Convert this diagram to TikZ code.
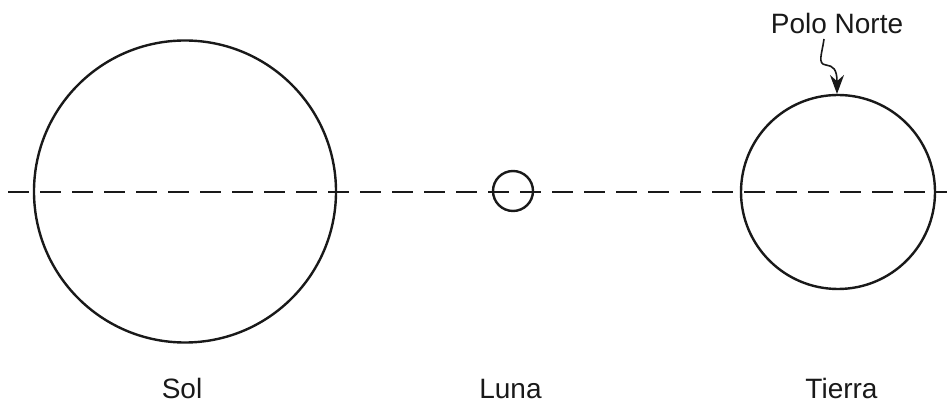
\documentclass[tikz,border=0pt]{standalone}
\usepackage{fontspec}
\setmainfont{Liberation Sans}
\usetikzlibrary{arrows.meta}
\begin{document}
\begin{tikzpicture}[x=1pt,y=1pt,
  body/.style={draw=black!90, line width=2.4pt, circle, inner sep=0pt},
  lbl/.style={font=\fontsize{28}{32}\selectfont, text=black!90, inner sep=0pt, anchor=base}]
\useasboundingbox (0,0) rectangle (947,409);
\draw[black!90, line width=2.4pt, dash pattern=on 21pt off 11pt, dash phase=24pt] (0,217) -- (947,217);
\node[body, minimum size=302pt] (sol) at (185,217.5) {};
\node[body, minimum size=40pt] (luna) at (513,218) {};
\node[body, minimum size=194pt] (tierra) at (838,217) {};
\node[lbl] (tsol) at (182,10) {Sol};
\node[lbl] (tluna) at (510.5,10) {Luna};
\node[lbl] (ttierra) at (841.5,10) {Tierra};
\node[lbl] (polo) at (837,375) {Polo Norte};
\draw[black!90, line width=1.6pt, -{Stealth[length=19pt,width=14pt]}]
  (824,370) .. controls (822,355) and (817,345) .. (826,344)
  .. controls (833,343) and (837,340) .. (837,315);
\end{tikzpicture}
\end{document}
